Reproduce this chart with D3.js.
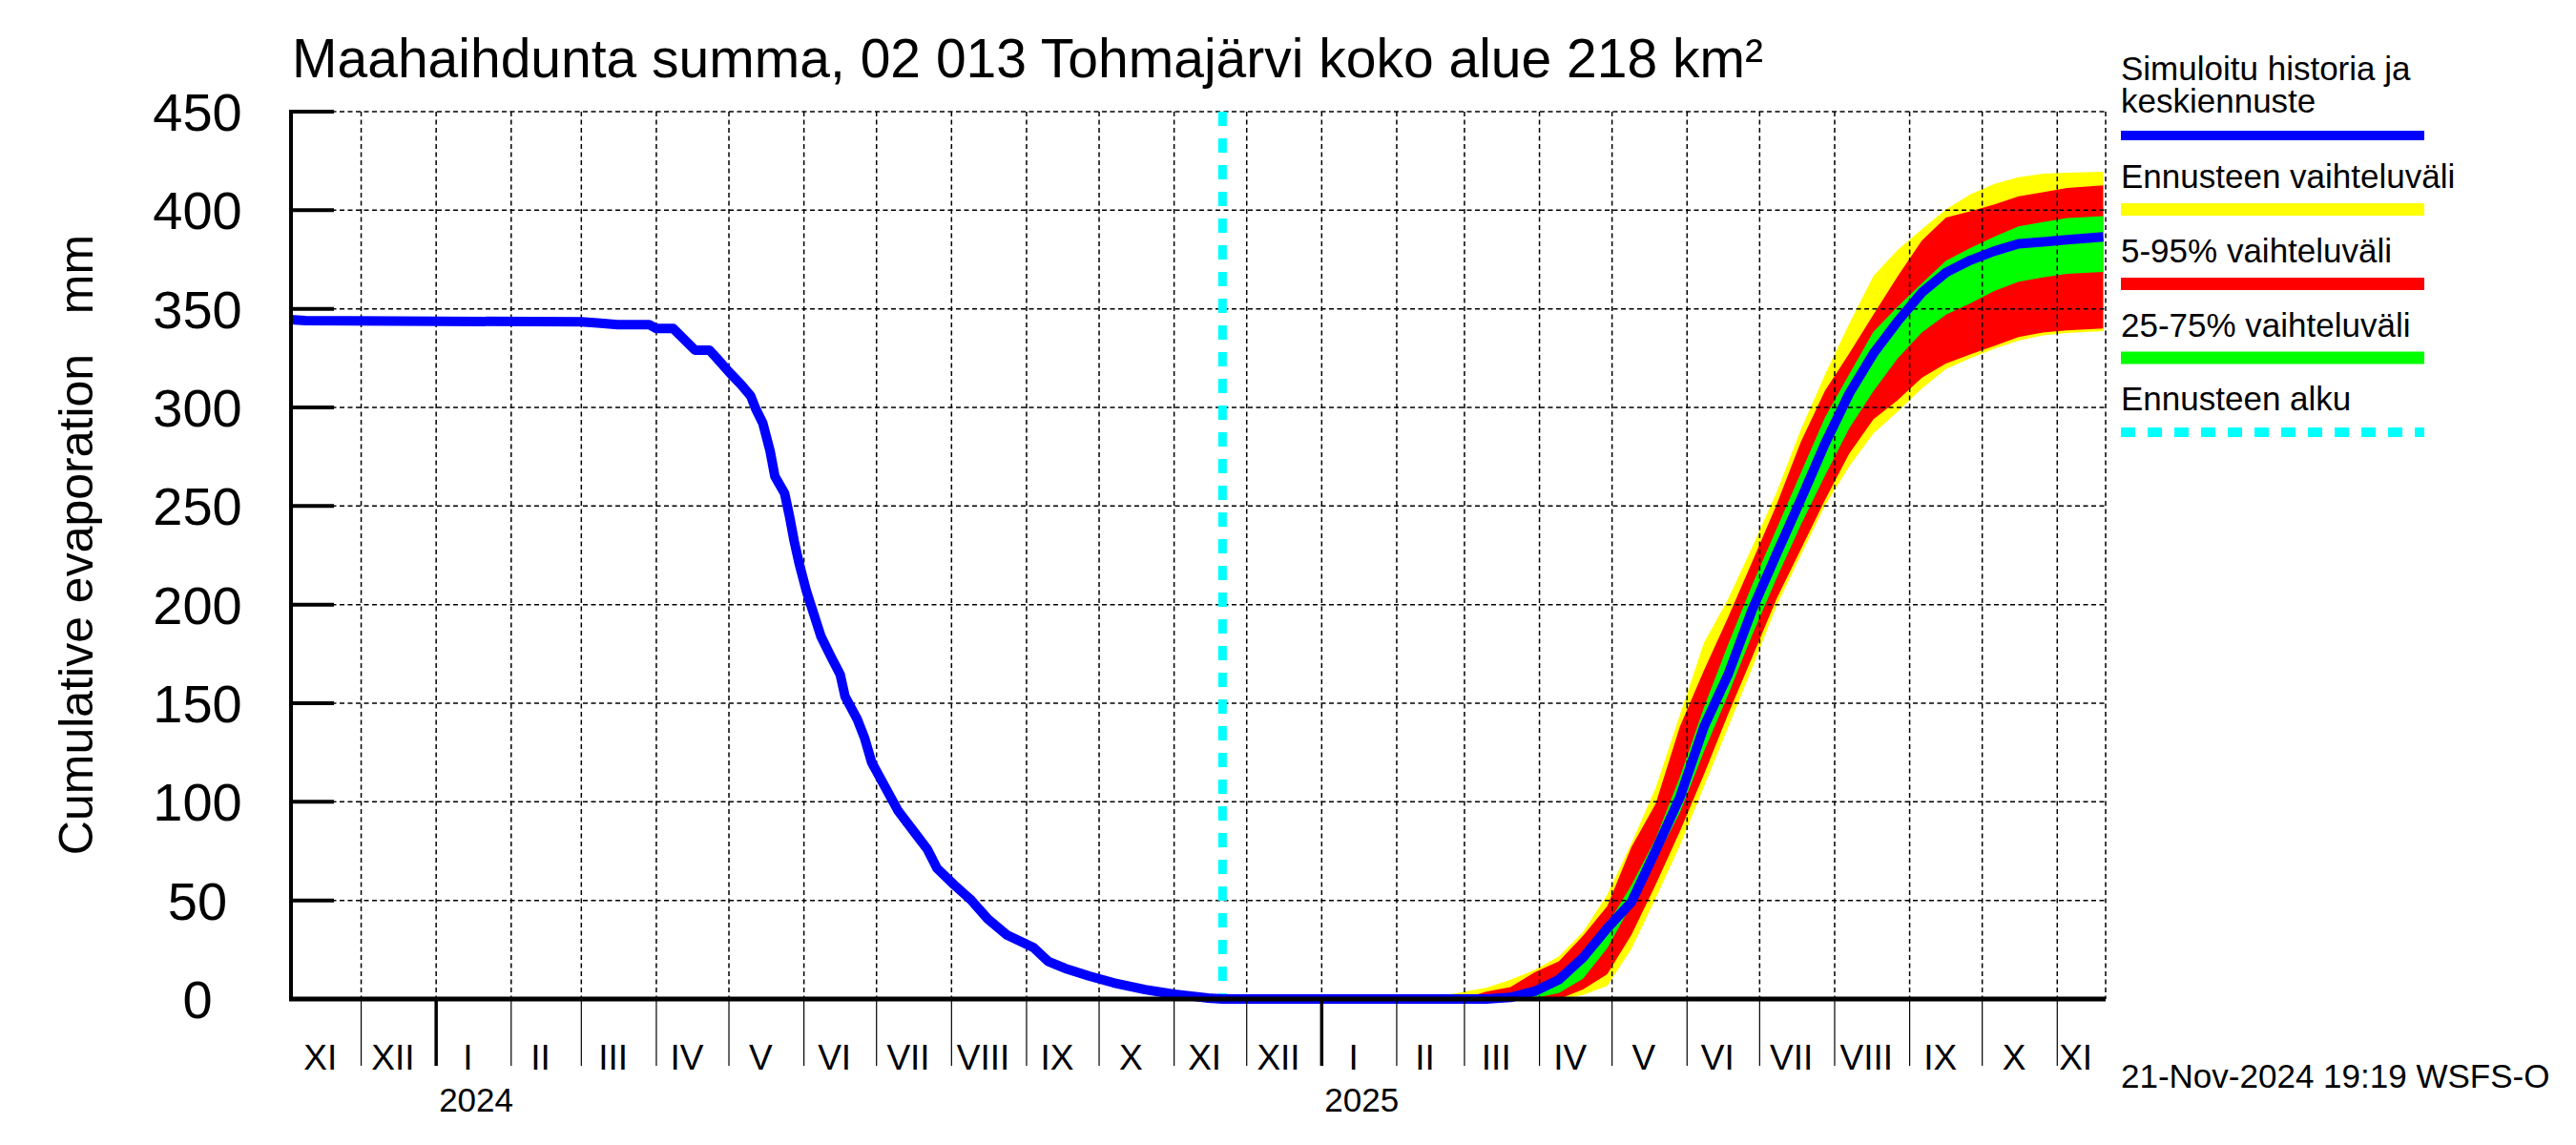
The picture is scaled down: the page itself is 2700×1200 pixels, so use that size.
<!DOCTYPE html>
<html>
<head>
<meta charset="utf-8">
<script src="https://cdn.jsdelivr.net/npm/d3@7"></script>
<style>
  body { margin: 0; background: #fff; }
  text { font-family: "Liberation Sans", Arial, Helvetica, sans-serif; fill: #000; }
</style>
</head>
<body>
<div id="chart"></div>
<script>
// simulated history (mm)
const historyDates = [
  "2023-11-02", "2023-11-08", "2024-03-01", "2024-03-09", "2024-03-16", "2024-03-29",
  "2024-04-01", "2024-04-08", "2024-04-17", "2024-04-23", "2024-04-26", "2024-05-01",
  "2024-05-06", "2024-05-10", "2024-05-12", "2024-05-15", "2024-05-18", "2024-05-20",
  "2024-05-24", "2024-05-26", "2024-05-28", "2024-05-30", "2024-06-02", "2024-06-05",
  "2024-06-08", "2024-06-12", "2024-06-16", "2024-06-18", "2024-06-23", "2024-06-26",
  "2024-06-29", "2024-07-05", "2024-07-10", "2024-07-17", "2024-07-22", "2024-07-26",
  "2024-08-02", "2024-08-09", "2024-08-16", "2024-08-24", "2024-09-04", "2024-09-10",
  "2024-09-17", "2024-09-27", "2024-10-07", "2024-10-20", "2024-11-01", "2024-11-08",
  "2024-11-15", "2024-11-21"
];
const historyValues = [
  344.5, 344, 343.4, 342.7, 342, 342,
  340, 340, 329, 329, 325, 318,
  311.6, 305.8, 299.5, 292, 278, 265,
  256.5, 245, 232, 221, 207, 195.5,
  184, 174, 164.5, 153.4, 142, 132.6,
  120, 106.5, 95.3, 84, 76, 66.3,
  58, 50.3, 40.6, 32.4, 26, 19,
  15.5, 11.6, 8.2, 4.8, 2.4, 1.5,
  0.5, 0
];

// forecast percentiles (mm)
const forecastDates = [
  "2024-11-21", "2025-02-18", "2025-02-28", "2025-03-10", "2025-03-20", "2025-03-30",
  "2025-04-09", "2025-04-19", "2025-04-29", "2025-05-09", "2025-05-19", "2025-05-29",
  "2025-06-08", "2025-06-18", "2025-06-28", "2025-07-08", "2025-07-18", "2025-07-28",
  "2025-08-07", "2025-08-17", "2025-08-27", "2025-09-06", "2025-09-16", "2025-09-26",
  "2025-10-06", "2025-10-16", "2025-10-26", "2025-11-05", "2025-11-20"
];
const fcMax = [0, 1.1, 3.5, 5.7, 9.8, 14.8, 21.7, 34, 53, 79, 107, 144, 180.7, 203, 229.5,
  257, 288.8, 316.7, 342.5, 366.7, 379.8, 390.4, 400.4, 408, 413.3, 416.7, 418.6, 419, 419.5];
const fcP95 = [0, 0, 0, 3.7, 6.0, 13.6, 19.1, 32, 47, 77, 99, 138, 166.7, 193.7, 222,
  250.7, 282.5, 308.5, 327.3, 347, 366.4, 384.6, 396.3, 399.4, 403, 407, 409.1, 411.3, 412.6];
const fcP75 = [0, 0, 0, 0, 0.5, 4.3, 11.9, 21.1, 37.6, 57.7, 81.3, 112.5, 147.9, 179.9, 210.3,
  238.4, 266.7, 294.9, 316.8, 338.3, 351, 362.9, 374.4, 380.8, 386.6, 391.8, 394, 396, 397];
const fcMedian = [0, 0, 0, 0, 0.8, 3.9, 9.8, 21, 35.9, 49.2, 75.2, 102.2, 138.1, 164.7, 197.7,
  225.7, 253.3, 281.6, 307, 327.3, 343.6, 358.2, 368.4, 374.6, 379.3, 383, 384, 385, 386.5];
const fcP25 = [0, 0, 0, 0, 0, 0.5, 3, 10.3, 25.8, 47.8, 70.6, 94.5, 125.6, 154.3, 184.8,
  213.4, 240.4, 265.4, 289.3, 308.2, 324.8, 338, 347, 352.8, 359, 363.8, 365.9, 367.7, 368.7];
const fcP5 = [0, 0, 0, 0, 0, 0, 0, 4.8, 12.6, 32.5, 58, 84.9, 113.9, 144.6, 173.6,
  203, 228, 253.1, 276.5, 294, 303.6, 315, 322.3, 326.8, 331.2, 335.7, 338, 339.1, 340.1];
const fcMin = [0, 0, 0, 0, 0, 0, 0, 2, 6.6, 25.4, 51, 77.7, 107.8, 137.9, 168.2,
  199.5, 225, 250.3, 270.1, 286.8, 297.8, 309.5, 319.5, 324.9, 329.7, 333.9, 336.5, 337.7, 338.7];

const forecastStart = "2024-11-21";
const xDomain = ["2023-11-02", "2025-11-21"];
const yTicks = [0, 50, 100, 150, 200, 250, 300, 350, 400, 450];
const monthNames = ["I", "II", "III", "IV", "V", "VI", "VII", "VIII", "IX", "X", "XI", "XII"];

const titleText = "Maahaihdunta summa, 02 013 Tohmajärvi koko alue 218 km²";
const yLabel = "Cumulative evaporation   mm";
const footerText = "21-Nov-2024 19:19 WSFS-O";
const legendLabels = [
  ["Simuloitu historia ja", "keskiennuste"],
  ["Ennusteen vaihteluväli"],
  ["5-95% vaihteluväli"],
  ["25-75% vaihteluväli"],
  ["Ennusteen alku"]
];
const legendColors = ["#0000ff", "#ffff00", "#ff0000", "#00ff00", "#00ffff"];

const width = 2700, height = 1200;
const plot = { left: 305, right: 2207, top: 117, bottom: 1047 };

const parseDate = d3.utcParse("%Y-%m-%d");

const svg = d3.select("#chart")
  .append("svg")
  .attr("width", width)
  .attr("height", height)
  .style("background", "#fff");

const x = d3.scaleUtc()
  .domain(xDomain.map(parseDate))
  .range([plot.left, plot.right]);

const y = d3.scaleLinear()
  .domain([0, 450])
  .range([plot.bottom, plot.top]);

const forecast = forecastDates.map((d, i) => ({
  date: parseDate(d),
  min: fcMin[i], p5: fcP5[i], p25: fcP25[i], med: fcMedian[i],
  p75: fcP75[i], p95: fcP95[i], max: fcMax[i]
}));

const band = (lo, hi) => d3.area()
  .x((d) => x(d.date))
  .y0((d) => y(d[lo]))
  .y1((d) => y(d[hi]));

// bands
svg.append("path").datum(forecast).attr("d", band("min", "max")).attr("fill", "#ffff00");
svg.append("path").datum(forecast).attr("d", band("p5", "p95")).attr("fill", "#ff0000");
svg.append("path").datum(forecast).attr("d", band("p25", "p75")).attr("fill", "#00ff00");

// grid
const months = d3.utcMonth.range(d3.utcMonth.ceil(x.domain()[0]), x.domain()[1]);
const grid = svg.append("g")
  .attr("stroke", "#000")
  .attr("stroke-width", 1.5)
  .attr("stroke-dasharray", "5,3.5");

grid.selectAll(".hg")
  .data(yTicks.filter((v) => v > 0))
  .enter()
  .append("line")
  .attr("x1", plot.left)
  .attr("x2", plot.right)
  .attr("y1", (d) => y(d))
  .attr("y2", (d) => y(d));

grid.selectAll(".vg")
  .data(months.concat([x.domain()[1]]))
  .enter()
  .append("line")
  .attr("x1", (d) => x(d))
  .attr("x2", (d) => x(d))
  .attr("y1", plot.top)
  .attr("y2", plot.bottom);

// forecast start
svg.append("line")
  .attr("x1", x(parseDate(forecastStart)))
  .attr("x2", x(parseDate(forecastStart)))
  .attr("y1", plot.top)
  .attr("y2", plot.bottom)
  .attr("stroke", "#00ffff")
  .attr("stroke-width", 9)
  .attr("stroke-dasharray", "15,13");

// history + median
const blueData = historyDates.map((d, i) => ({ date: parseDate(d), v: historyValues[i] }))
  .concat(forecast.slice(1).map((d) => ({ date: d.date, v: d.med })));

svg.append("path")
  .datum(blueData)
  .attr("d", d3.line().x((d) => x(d.date)).y((d) => y(d.v)))
  .attr("fill", "none")
  .attr("stroke", "#0000ff")
  .attr("stroke-width", 10)
  .attr("stroke-linejoin", "round");

// axes
svg.append("line")
  .attr("x1", plot.left).attr("x2", plot.left)
  .attr("y1", plot.top - 2).attr("y2", plot.bottom)
  .attr("stroke", "#000").attr("stroke-width", 4);

svg.selectAll(".ytick")
  .data(yTicks)
  .enter()
  .append("line")
  .attr("x1", plot.left)
  .attr("x2", plot.left + 45)
  .attr("y1", (d) => y(d))
  .attr("y2", (d) => y(d))
  .attr("stroke", "#000")
  .attr("stroke-width", 4);

svg.selectAll(".ylab")
  .data(yTicks)
  .enter()
  .append("text")
  .attr("x", 207)
  .attr("y", (d) => y(d))
  .attr("dy", "0.36em")
  .attr("text-anchor", "middle")
  .attr("font-size", 56)
  .text((d) => d);

svg.append("line")
  .attr("x1", plot.left - 2).attr("x2", plot.right)
  .attr("y1", plot.bottom).attr("y2", plot.bottom)
  .attr("stroke", "#000").attr("stroke-width", 5);

// month ticks below axis
svg.selectAll(".mtick")
  .data(months)
  .enter()
  .append("line")
  .attr("x1", (d) => x(d))
  .attr("x2", (d) => x(d))
  .attr("y1", plot.bottom)
  .attr("y2", 1117)
  .attr("stroke", "#000")
  .attr("stroke-width", (d) => (d.getUTCMonth() === 0 ? 3.5 : 1.2));

// month labels, roughly centred in the visible part of each month
const monthStarts = d3.utcMonth.range(d3.utcMonth.floor(x.domain()[0]), x.domain()[1]);
svg.selectAll(".mlab")
  .data(monthStarts)
  .enter()
  .append("text")
  .attr("x", (d) => {
    const a = Math.max(x(d), plot.left);
    const b = Math.min(x(d3.utcMonth.offset(d, 1)), plot.right);
    return (a + b) / 2 - 6;
  })
  .attr("y", 1121)
  .attr("text-anchor", "middle")
  .attr("font-size", 37)
  .text((d) => monthNames[d.getUTCMonth()]);

svg.selectAll(".yearlab")
  .data(months.filter((d) => d.getUTCMonth() === 0))
  .enter()
  .append("text")
  .attr("x", (d) => x(d) + 3)
  .attr("y", 1165)
  .attr("font-size", 35)
  .text((d) => d.getUTCFullYear());

// title, y label, footer
svg.append("text")
  .attr("x", 306)
  .attr("y", 81)
  .attr("font-size", 57)
  .text(titleText);

svg.append("text")
  .attr("transform", "translate(97,571) rotate(-90)")
  .attr("text-anchor", "middle")
  .attr("font-size", 50)
  .style("white-space", "pre")
  .text(yLabel);

svg.append("text")
  .attr("x", 2223)
  .attr("y", 1140)
  .attr("font-size", 35)
  .text(footerText);

// legend
const legendTextY = [[84, 118], [197], [275], [353], [430]];
const legendLineY = [142, 219.5, 297.5, 375, 453];
const legendLineW = [10, 13, 13, 13, 10];
const legend = svg.append("g");

legendLabels.forEach((lines, i) => {
  lines.forEach((t, j) => {
    legend.append("text")
      .attr("x", 2223)
      .attr("y", legendTextY[i][j])
      .attr("font-size", 35)
      .text(t);
  });
  legend.append("line")
    .attr("x1", 2223)
    .attr("x2", 2541)
    .attr("y1", legendLineY[i])
    .attr("y2", legendLineY[i])
    .attr("stroke", legendColors[i])
    .attr("stroke-width", legendLineW[i])
    .attr("stroke-dasharray", i === 4 ? "15,13" : null);
});
</script>
</body>
</html>
